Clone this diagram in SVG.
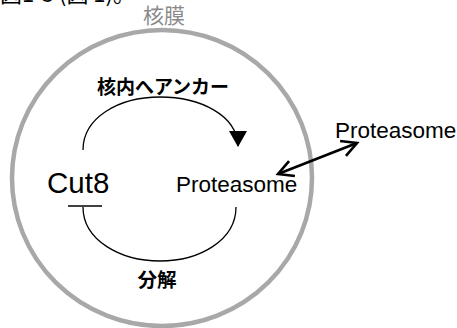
<svg xmlns="http://www.w3.org/2000/svg" width="457" height="328" viewBox="0 0 457 328">
  <style>
    .jp { font-family: "Noto Sans CJK JP", "Noto Sans", sans-serif; }
    .lat { font-family: "Liberation Sans", Arial, sans-serif; fill: #000; }
    .conn { fill: none; stroke: #000; }
  </style>
  <defs>
    <marker id="tri" markerWidth="18" markerHeight="16" refX="9" refY="15" orient="0" markerUnits="userSpaceOnUse" viewBox="0 0 18 16">
      <path d="M0,0 L18,0 L9,16 Z" fill="#000"/>
    </marker>
    <marker id="open" markerWidth="20" markerHeight="20" refX="17" refY="10" orient="auto-start-reverse" markerUnits="userSpaceOnUse" viewBox="0 0 20 20">
      <path d="M2,2 L17,10 L2,18" fill="none" stroke="#000" stroke-width="2.6" stroke-linejoin="miter"/>
    </marker>
  </defs>
  <rect width="457" height="328" fill="#fff"/>
  <text class="jp" x="0" y="2" font-size="22" fill="#000">図1-3 (図 1)。</text>

  <g id="nucleus">
    <ellipse cx="162" cy="178" rx="150" ry="148" fill="none" stroke="#a8a8a8" stroke-width="4.5"/>
    <text class="jp" x="164" y="23" font-size="21" fill="#8a8a8a" text-anchor="middle">核膜</text>
  </g>

  <g id="cut8">
    <text class="lat" x="47" y="193" font-size="29.5">Cut8</text>
  </g>
  <g id="proteasome-in">
    <text class="lat" x="176" y="192" font-size="22.5">Proteasome</text>
  </g>
  <g id="proteasome-out">
    <text class="lat" x="335" y="138" font-size="22.5">Proteasome</text>
  </g>

  <g id="labels">
    <text class="jp" x="163" y="94" font-size="19" font-weight="bold" text-anchor="middle">核内へアンカー</text>
    <text class="jp" x="157" y="287" font-size="19.5" font-weight="bold" text-anchor="middle">分解</text>
  </g>

  <g id="connectors">
    <path class="conn" stroke-width="1.3" d="M83,150 C83,118 118,97 160,97 C200,97 237,115 238,146" marker-end="url(#tri)"/>
    <path class="conn" stroke-width="1.3" d="M83,207 C83,240 120,261 160,261 C200,261 236,240 236,207"/>
    <line class="conn" x1="68" y1="206" x2="102" y2="206" stroke-width="1.5" stroke="#333"/>
    <line class="conn" x1="278" y1="174" x2="357" y2="143" stroke-width="2.6" marker-start="url(#open)" marker-end="url(#open)"/>
  </g>
</svg>
